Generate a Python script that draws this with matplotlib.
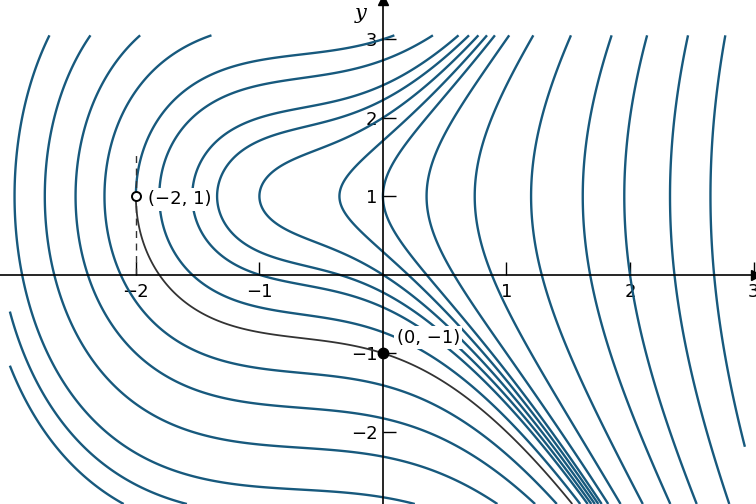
import numpy as np
import matplotlib.pyplot as plt

# integral curves of dy/dx = (3x^2 + 4x + 2) / (2(y - 1)):  y^2 - 2y - (x^3 + 2x^2 + 2x) = c
levels = [-39, -29, -20, -13.7, -8, -4, -2, -1, -0.5, 0, 0.5, 1, 2, 4.8, 7, 10, 13.7]
lower_only = [16.5, 19]     # only the lower branch shows on the left
c_sol = 3                   # solution through (0, -1), starts at (-2, 1)
xticks = [-2, -1, 1, 2, 3]
yticks = [-2, -1, 1, 2, 3]
blue = "#17597d"

def F(x, y):
    return y**2 - 2*y - (x**3 + 2*x**2 + 2*x)

fig = plt.figure(figsize=(7.56, 5.04), dpi=100)
ax = fig.add_axes([0, 0, 1, 1])

x = np.linspace(-3.08, 2.93, 900)
y = np.linspace(-2.92, 3.05, 900)
X, Y = np.meshgrid(x, y)
ax.contour(X, Y, F(X, Y), levels=levels, colors=blue, linewidths=1.7, linestyles="solid")

xl = np.linspace(-3.02, 2.93, 900)
yl = np.linspace(-2.92, 1, 600)
XL, YL = np.meshgrid(xl, yl)
ax.contour(XL, YL, F(XL, YL), levels=lower_only, colors=blue, linewidths=1.7, linestyles="solid")
ax.contour(XL, YL, F(XL, YL), levels=[c_sol], colors="#333333", linewidths=1.3, linestyles="solid")

yu = np.linspace(1, 3.05, 400)
XU, YU = np.meshgrid(x, yu)
ax.contour(XU, YU, F(XU, YU), levels=[c_sol], colors=blue, linewidths=1.7, linestyles="solid")

# dashed line x = -2
ax.plot([-2, -2], [0, 1.55], color="#333333", lw=1, ls=(0, (5, 4)))

ax.plot(-2, 1, "o", ms=6.5, mfc="white", mec="black", mew=1.4, zorder=5)
ax.plot(0, -1, "o", ms=7.5, color="black", zorder=5)
box = dict(facecolor="white", edgecolor="none", pad=1.5)
ax.text(-1.9, 0.96, "(\u22122, 1)", fontsize=13, ha="left", va="center", bbox=box, zorder=4)
ax.text(0.11, -0.8, "(0, \u22121)", fontsize=13, ha="left", va="center", bbox=box, zorder=4)

ax.set_xlim(-3.10, 3.02)
ax.set_ylim(-2.92, 3.50)

for s in ["top", "right"]:
    ax.spines[s].set_visible(False)
ax.spines["left"].set_position("zero")
ax.spines["bottom"].set_position("zero")
ax.spines["left"].set_linewidth(1.2)
ax.spines["bottom"].set_linewidth(1.2)
ax.set_xticks(xticks)
ax.set_yticks(yticks)
ax.set_xticklabels(["\u2212" + str(-t) if t < 0 else str(t) for t in xticks])
ax.set_yticklabels(["\u2212" + str(-t) if t < 0 else str(t) for t in yticks])
ax.tick_params(axis="both", direction="in", length=9.5, width=1, labelsize=13)
ax.tick_params(axis="x", pad=6)
ax.tick_params(axis="y", pad=4)

ax.plot(1, 0, ">k", ms=7, transform=ax.get_yaxis_transform(), clip_on=False)
ax.plot(0, 1, "^k", ms=7, transform=ax.get_xaxis_transform(), clip_on=False)
ax.text(-0.18, 3.33, "y", fontsize=15, family="DejaVu Serif", style="italic", ha="center", va="center")

plt.savefig("out.png", dpi=100)
